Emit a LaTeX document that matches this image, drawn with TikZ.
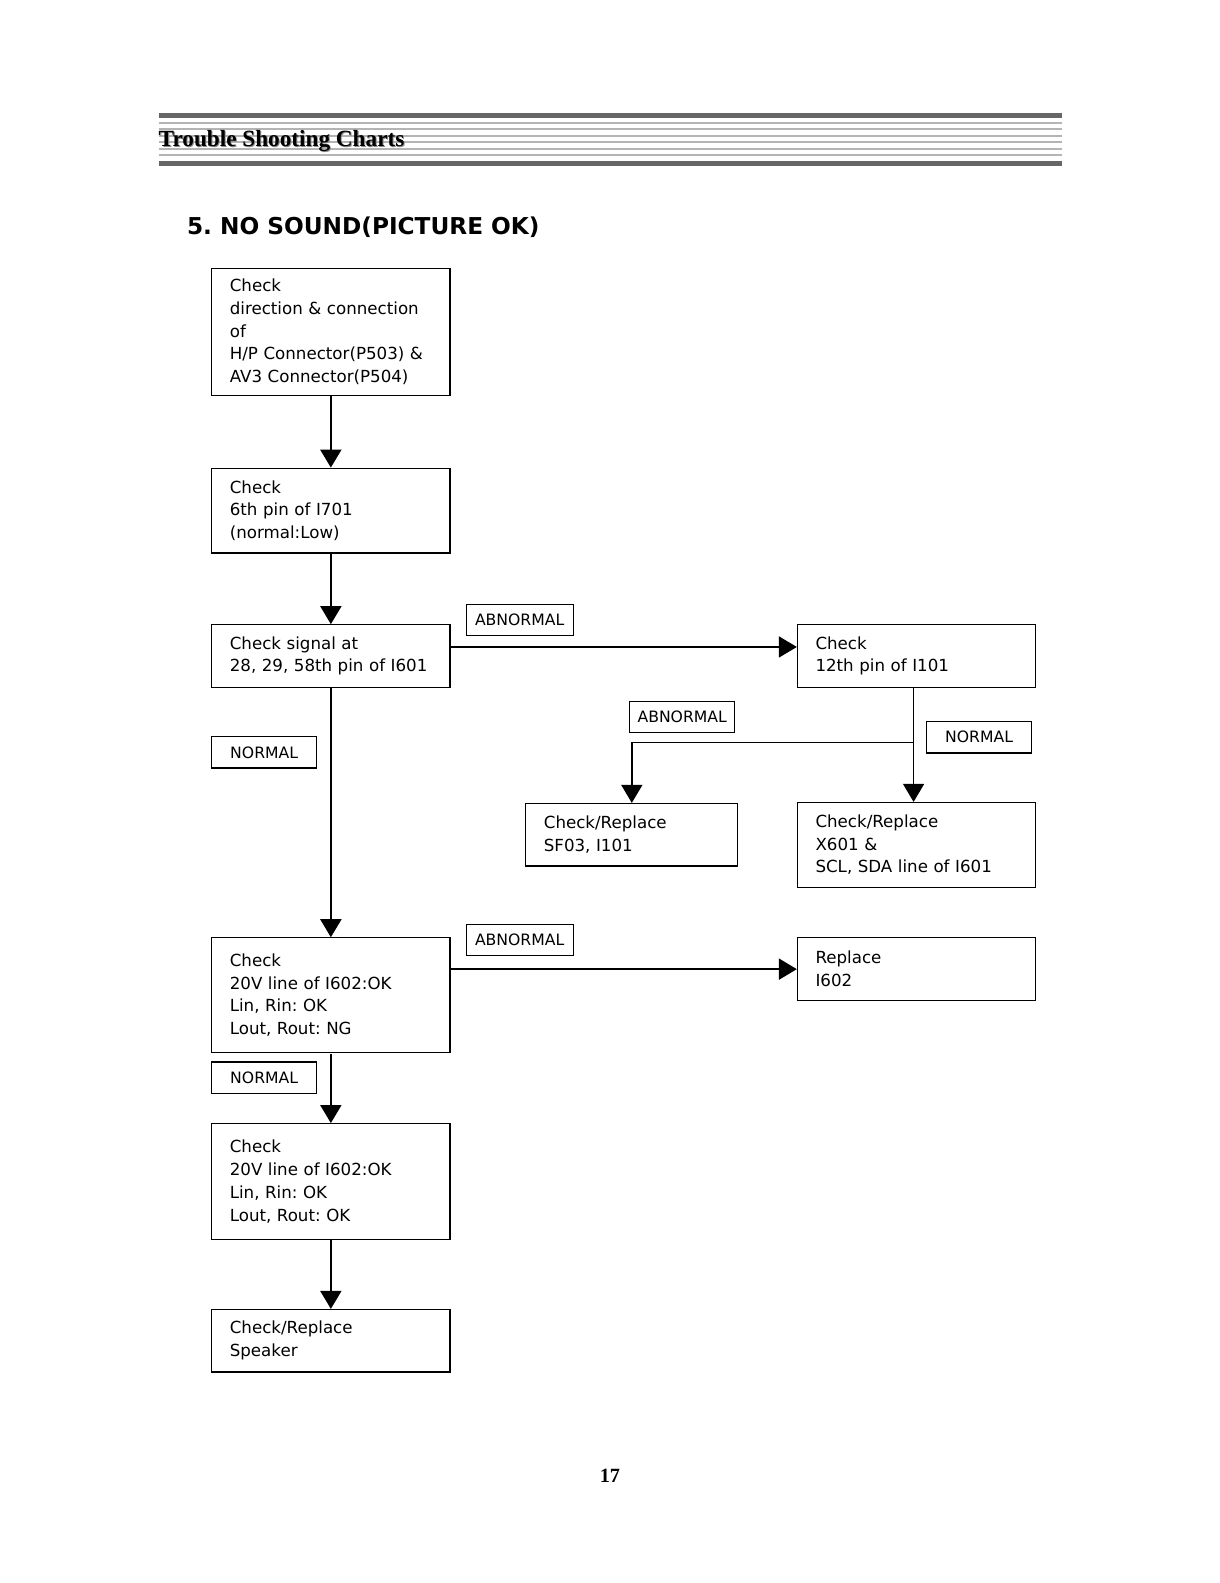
\documentclass[tikz,border=0pt]{standalone}
\usepackage{fontspec}
\setmainfont{DejaVu Sans}
\newfontfamily\serifhead{Liberation Serif}
\usetikzlibrary{arrows.meta}
\frenchspacing
\definecolor{bardark}{HTML}{666666}
\definecolor{barlight}{HTML}{B4B4B4}
\tikzset{
  box/.style={draw, line width=1.2pt, anchor=north west, align=left,
    inner xsep=18pt, inner ysep=0pt, text width=#1,
    font=\fontsize{16.5}{22.5}\selectfont},
  lab/.style={draw, line width=1.2pt, anchor=north west, minimum width=106pt,
    minimum height=31pt, inner sep=0pt, font=\fontsize{15.5}{18}\selectfont},
  arr/.style={line width=2pt, -{Triangle[width=21pt,length=18pt]}},
  arrthin/.style={line width=1.5pt, -{Triangle[width=21pt,length=18pt]}},
}
\begin{document}
\begin{tikzpicture}[x=1pt,y=-1pt]
\begin{scope}[scale=1.0098, transform shape]
% header
\fill[bardark] (157,112) rectangle (1052,117);
\fill[bardark] (157,159) rectangle (1052,164);
\foreach \yy in {121.5,128,134.5,141,147.5,153.5}
  \draw[barlight, line width=2pt] (157,\yy) -- (1052,\yy);
\node[anchor=base west, inner sep=0pt, text=black!45, font=\serifhead\bfseries\fontsize{23}{23}\selectfont] (hdshadow) at (158,146) {Trouble Shooting Charts};
\node[anchor=base west, inner sep=0pt, font=\serifhead\bfseries\fontsize{23}{23}\selectfont] (hd) at (157,145) {Trouble Shooting Charts};
% title
\node[anchor=base west, inner sep=0pt, font=\bfseries\fontsize{23}{23}\selectfont] (title) at (185,232) {5. NO SOUND(PICTURE OK)};
% boxes
\node[box=200pt, minimum height=126pt] (b1) at (209,265) {Check\\direction \& connection\\of\\H/P Connector(P503) \&\\AV3 Connector(P504)};
\node[box=200pt, minimum height=84pt] (b2) at (209,463) {Check\\6th pin of I701\\(normal:Low)};
\node[box=200pt, minimum height=62pt] (b3) at (209,618) {Check signal at\\28, 29, 58th pin of I601};
\node[box=200pt, minimum height=62pt] (b4) at (789,618) {Check\\12th pin of I101};
\node[box=174pt, minimum height=62pt] (b5) at (520,795) {Check/Replace\\SF03, I101};
\node[box=200pt, minimum height=84pt] (b6) at (789,794) {Check/Replace\\X601 \&\\SCL, SDA line of I601};
\node[box=200pt, minimum height=114pt] (b7) at (209,928) {Check\\20V line of I602:OK\\Lin, Rin: OK\\Lout, Rout: NG};
\node[box=200pt, minimum height=62pt] (b8) at (789,928) {Replace\\I602};
\node[box=200pt, minimum height=115pt] (b9) at (209,1112) {Check\\20V line of I602:OK\\Lin, Rin: OK\\Lout, Rout: OK};
\node[box=200pt, minimum height=62pt] (b10) at (209,1296) {Check/Replace\\Speaker};
% labels
\node[lab] (l1) at (461,598) {ABNORMAL};
\node[lab, minimum width=104pt] (l2) at (623,694) {ABNORMAL};
\node[lab, minimum width=104pt] (l3) at (917,714) {NORMAL};
\node[lab, minimum width=104pt] (l4) at (209,729) {NORMAL};
\node[lab] (l5) at (461,915) {ABNORMAL};
\node[lab, minimum width=104pt] (l6) at (209,1051) {NORMAL};
% connectors
\draw[arr] (b1.south) -- (b2.north);
\draw[arr] (b2.south) -- (b3.north);
\draw[arr] (b3.south) -- (b7.north);
\draw[arr] (b7.south) -- (b9.north);
\draw[arr] (b9.south) -- (b10.north);
\draw[arr] ([yshift=9pt]b3.east) -- ([yshift=9pt]b4.west);
\draw[arr] (b8.west -| b7.east) -- (b8.west);
\coordinate (j) at ([yshift=-54pt]b4.south);
\draw[arrthin] ([xshift=-3pt]b4.south) -- ([xshift=-3pt]b6.north);
\draw[arrthin] ([xshift=-3pt]j) -| (b5.north);
% page number
\node[inner sep=0pt, anchor=base, font=\serifhead\bfseries\fontsize{20}{20}\selectfont] (pg) at (604,1468) {17};
\end{scope}
\pgfresetboundingbox
\useasboundingbox (0,0) rectangle (1220,1583);
\end{tikzpicture}
\end{document}
